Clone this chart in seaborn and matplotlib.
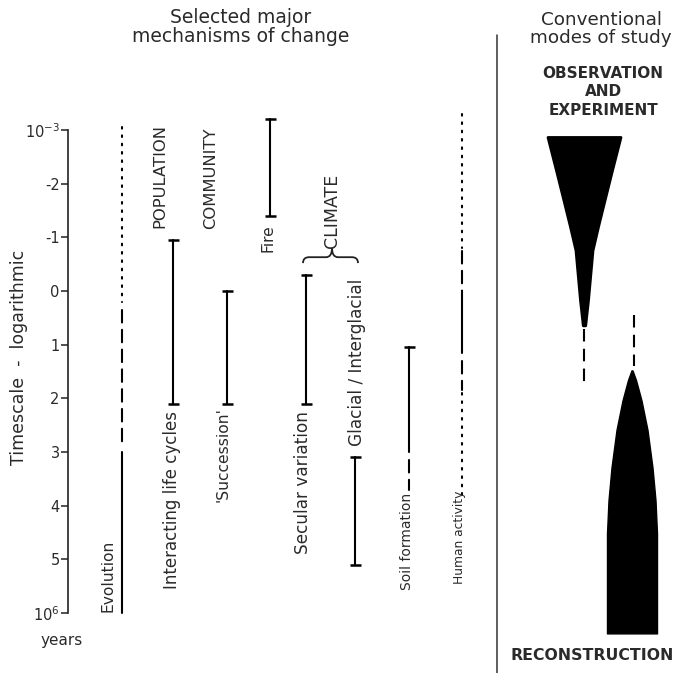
"""Timescales of major mechanisms of vegetation change vs. modes of study."""
import numpy as np
import pandas as pd
import matplotlib.pyplot as plt
from matplotlib.path import Path
from matplotlib.patches import PathPatch
from matplotlib.lines import Line2D
import seaborn as sns

# --- data (timescale in log10 years) ---------------------------------------
mechanisms = ["Evolution", "Interacting life cycles", "'Succession'", "Fire",
              "Secular variation", "Glacial / Interglacial", "Soil formation",
              "Human activity"]

seg_mech = ["Evolution", "Evolution", "Evolution",
            "Interacting life cycles", "'Succession'", "Fire", "Secular variation",
            "Glacial / Interglacial", "Soil formation", "Soil formation",
            "Human activity", "Human activity", "Human activity",
            "Human activity", "Human activity"]
seg_start = [-3.05, 0.35, 3.0, -0.95, 0.0, -3.2, -0.3, 3.1, 1.05, 3.15,
             -3.3, -0.75, 0.0, 1.3, 1.9]
seg_end = [0.2, 2.9, 6.0, 2.1, 2.1, -1.4, 2.1, 5.1, 3.0, 3.7,
           -0.8, 0.0, 1.15, 1.85, 3.8]
seg_kind = ["dotted", "dashed", "solid", "solid", "solid", "solid", "solid",
            "solid", "solid", "dashed", "dotted", "dashed", "solid", "dashed",
            "dotted"]

cap_mech = ["Interacting life cycles", "Interacting life cycles",
            "'Succession'", "'Succession'", "Fire", "Fire",
            "Secular variation", "Secular variation",
            "Glacial / Interglacial", "Glacial / Interglacial", "Soil formation"]
cap_t = [-0.95, 2.1, 0.0, 2.1, -3.2, -1.4, -0.3, 2.1, 3.1, 5.1, 1.05]

groups = ["POPULATION", "COMMUNITY", "CLIMATE"]

tick_vals = [-3, -2, -1, 0, 1, 2, 3, 4, 5, 6]
tick_labels = ["10$^{-3}$", "-2", "-1", "0", "1", "2", "3", "4", "5", "10$^{6}$"]

# modes of study: profile of the black wedges (time, half width)
obs_t = [-2.87, -2.25, -1.69, -1.2, -0.76, 0.17, 0.64]
obs_halfw = [36.5, 28.0, 20.5, 14.0, 8.5, 4.0, 1.2]
obs_dash = [0.7, 1.76]
rec_t = [1.48, 1.66, 2.04, 2.59, 3.29, 3.9, 4.52, 6.38]
rec_halfw = [0.5, 4.0, 9.5, 15.5, 20.5, 23.5, 25.0, 25.0]
rec_dash = [0.45, 1.4]

# --- layout (pixel positions) ---------------------------------------------
W, H = 683, 673
col_x = {"Evolution": 122, "Interacting life cycles": 173, "'Succession'": 227,
         "Fire": 270, "Secular variation": 306, "Glacial / Interglacial": 355,
         "Soil formation": 409, "Human activity": 462}
# label: (x, y, va, fontsize)
label_pos = {"Evolution": (108, 612, "bottom", 11.2),
             "Interacting life cycles": (172, 411, "top", 12.0),
             "'Succession'": (223, 407, "top", 11.2),
             "Fire": (268, 224, "top", 11.2),
             "Secular variation": (303, 411, "top", 12.2),
             "Glacial / Interglacial": (357, 446, "bottom", 12.2),
             "Soil formation": (407, 590, "bottom", 10.0),
             "Human activity": (460, 584, "bottom", 8.8)}
group_pos = {"POPULATION": (160, 228, 11.8), "COMMUNITY": (211, 229, 11.8),
             "CLIMATE": (332, 248, 12.5)}

TXT = "#2a2a2a"

sns.set_theme(style="white")
plt.rcParams["font.family"] = ["DejaVu Sans"]

fig = plt.figure(figsize=(W / 100, H / 100), dpi=100)
fig.patch.set_facecolor("white")


def px_axes(x0, x1, y0, y1):
    return fig.add_axes([x0 / W, 1 - y1 / H, (x1 - x0) / W, (y1 - y0) / H])


def ftext(x, y, s, **kw):
    fig.text(x / W, 1 - y / H, s, color=TXT, **kw)


ax = px_axes(68, 497, 130, 613)
axr = px_axes(497, 683, 130, 613)
for a, xl in ((ax, (68, 497)), (axr, (497, 683))):
    a.set_ylim(6, -3)
    a.set_xlim(*xl)
    a.set_facecolor("none")
    sns.despine(ax=a, left=(a is axr), bottom=True)

# mechanism ranges
rows = []
for i, (m, a, b, k) in enumerate(zip(seg_mech, seg_start, seg_end, seg_kind)):
    rows.append({"x": col_x[m], "t": a, "seg": i, "kind": k})
    rows.append({"x": col_x[m], "t": b, "seg": i, "kind": k})
df = pd.DataFrame(rows)
sns.lineplot(data=df, x="x", y="t", units="seg", estimator=None, style="kind",
             dashes={"solid": "", "dashed": (6, 3.5), "dotted": (0.8, 3.2)},
             color="black", sort=False, orient="y", legend=False, ax=ax,
             lw=1.5, clip_on=False, dash_capstyle="round")

cap_x = [col_x[m] for m in cap_mech]
ax.hlines(cap_t, np.array(cap_x) - 5.5, np.array(cap_x) + 5.5, color="black",
          lw=1.8, clip_on=False)

# y axis
ax.set_xlabel("")
ax.set_ylabel("")
ax.set_ylim(6, -3)
ax.spines["left"].set_color("#222")
ax.spines["left"].set_linewidth(1.2)
ax.set_yticks(tick_vals)
ax.set_yticklabels(tick_labels)
ax.tick_params(axis="y", direction="out", length=5, width=1.1, color="#222",
               pad=1, labelsize=10.5, labelcolor=TXT, left=True)
ax.set_xticks([])
axr.set_xticks([])
axr.set_yticks([])

# labels
for m in mechanisms:
    x, y, va, fs = label_pos[m]
    ftext(x, y, m, rotation=90, ha="center", va=va, fontsize=fs)
for g in groups:
    x, y, fs = group_pos[g]
    ftext(x, y, g, rotation=90, ha="center", va="bottom", fontsize=fs)

# climate brace
x0, x1, xc = 303, 358, 332
yb, ym, yt = -0.52, -0.63, -0.80
r = 6
verts = [(x0, yb), (x0, ym), (x0 + r, ym), (xc - r, ym), (xc, ym), (xc, yt),
         (xc, ym), (xc + r, ym), (x1 - r, ym), (x1, ym), (x1, yb)]
codes = [Path.MOVETO, Path.CURVE3, Path.CURVE3, Path.LINETO, Path.CURVE3,
         Path.CURVE3, Path.CURVE3, Path.CURVE3, Path.LINETO, Path.CURVE3,
         Path.CURVE3]
ax.add_patch(PathPatch(Path(verts, codes), fc="none", ec="#222", lw=1.3,
                       clip_on=False))

# modes of study wedges
obs_c, rec_c = 584, 632
axr.fill_betweenx(obs_t, obs_c - np.array(obs_halfw), obs_c + np.array(obs_halfw),
                  color="black", lw=2, joinstyle="round", clip_on=False)
axr.plot([obs_c, obs_c], obs_dash, color="black", lw=1.5, ls=(0, (6, 3.5)),
         clip_on=False)
axr.fill_betweenx(rec_t, rec_c - np.array(rec_halfw), rec_c + np.array(rec_halfw),
                  color="black", lw=1, clip_on=False)
axr.plot([rec_c + 2, rec_c + 2], rec_dash, color="black", lw=1.5,
         ls=(0, (6, 3.5)), clip_on=False)

# divider
fig.add_artist(Line2D([497 / W, 497 / W], [1 - 35 / H, 0], color="#333", lw=1.1))

# headings
ftext(241, 27, "Selected major\nmechanisms of change", ha="center", va="center",
      fontsize=13.5, linespacing=1.05)
ftext(601, 29, "Conventional\nmodes of study", ha="center", va="center",
      fontsize=13.2, linespacing=1.05)
ftext(603, 92, "OBSERVATION\nAND\nEXPERIMENT", ha="center", va="center",
      fontsize=11, fontweight="bold", linespacing=1.3)
ftext(592, 656, "RECONSTRUCTION", ha="center", va="center", fontsize=11.3,
      fontweight="bold")
ftext(19, 357, "Timescale  -  logarithmic", rotation=90, ha="center",
      va="center", fontsize=12.5)
ftext(62, 640, "years", ha="center", va="center", fontsize=11)

fig.savefig("out.png", dpi=100, facecolor="white")
